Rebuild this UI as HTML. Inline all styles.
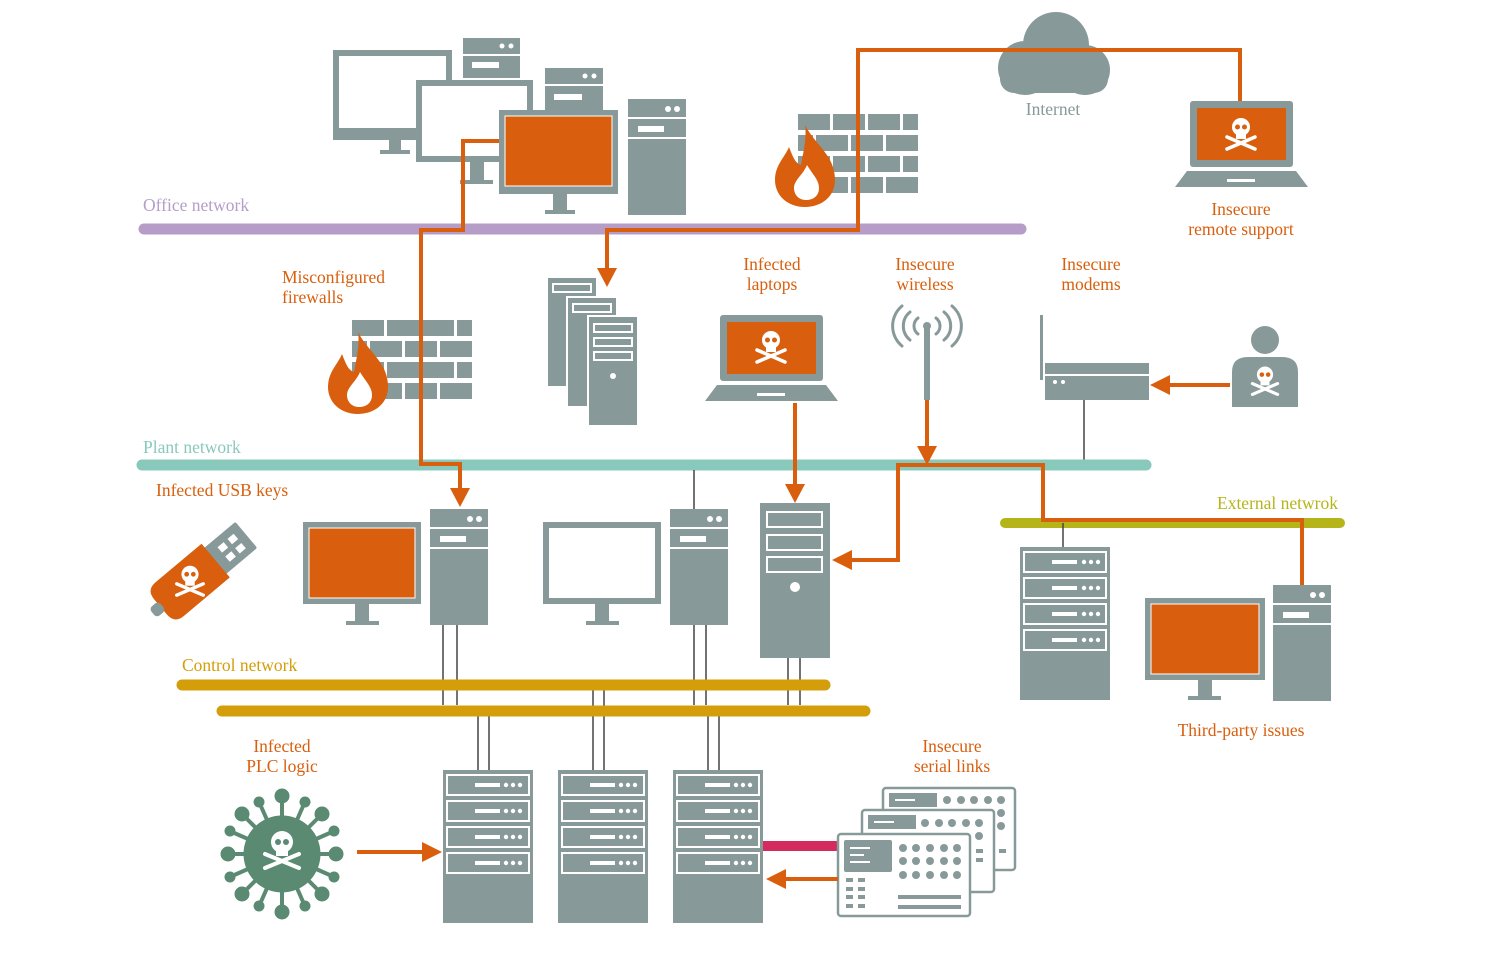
<!DOCTYPE html>
<html><head><meta charset="utf-8"><style>
html,body{margin:0;padding:0;background:#fff;}
svg{display:block;}
text{font-family:"Liberation Serif",serif;font-size:17.5px;}
.o{fill:#d95f0e;}
</style></head><body>
<svg width="1496" height="953" viewBox="0 0 1496 953" xmlns="http://www.w3.org/2000/svg">
<defs>
<g id="skull">
 <circle cx="0" cy="-6" r="9" fill="#fff"/>
 <rect x="-5" y="0" width="10" height="6" fill="#fff"/>
 <circle cx="-3.5" cy="-6" r="2.5" fill="#d95f0e"/><circle cx="3.5" cy="-6" r="2.5" fill="#d95f0e"/>
 <path d="M-14 4 L14 16 M14 4 L-14 16" stroke="#fff" stroke-width="3.5" stroke-linecap="round"/>
</g>
<g id="srv">
 <rect x="0" y="0" width="58" height="116" fill="#879a99"/>
 <rect x="0" y="18" width="58" height="2" fill="#fff"/>
 <rect x="0" y="38" width="58" height="2" fill="#fff"/>
 <circle cx="40" cy="10" r="3" fill="#fff"/><circle cx="49" cy="10" r="3" fill="#fff"/>
 <rect x="10" y="27" width="26" height="6" fill="#fff"/>
</g>
<g id="plc">
 <rect x="0" y="0" width="90" height="153" fill="#879a99"/>
 <g fill="none" stroke="#fff" stroke-width="2">
  <rect x="4" y="5" width="82" height="20"/><rect x="4" y="31" width="82" height="20"/><rect x="4" y="57" width="82" height="20"/><rect x="4" y="83" width="82" height="20"/>
 </g>
 <g fill="#fff">
  <rect x="32" y="13" width="25" height="4"/><circle cx="63" cy="15" r="2.2"/><circle cx="70" cy="15" r="2.2"/><circle cx="77" cy="15" r="2.2"/>
  <rect x="32" y="39" width="25" height="4"/><circle cx="63" cy="41" r="2.2"/><circle cx="70" cy="41" r="2.2"/><circle cx="77" cy="41" r="2.2"/>
  <rect x="32" y="65" width="25" height="4"/><circle cx="63" cy="67" r="2.2"/><circle cx="70" cy="67" r="2.2"/><circle cx="77" cy="67" r="2.2"/>
  <rect x="32" y="91" width="25" height="4"/><circle cx="63" cy="93" r="2.2"/><circle cx="70" cy="93" r="2.2"/><circle cx="77" cy="93" r="2.2"/>
 </g>
</g>
<g id="bricks" fill="#879a99">
 <rect x="0" y="0" width="32" height="16"/><rect x="35" y="0" width="32" height="16"/><rect x="70" y="0" width="32" height="16"/><rect x="105" y="0" width="15" height="16"/>
 <rect x="0" y="21" width="15" height="16"/><rect x="18" y="21" width="32" height="16"/><rect x="53" y="21" width="32" height="16"/><rect x="88" y="21" width="32" height="16"/>
 <rect x="0" y="42" width="32" height="16"/><rect x="35" y="42" width="32" height="16"/><rect x="70" y="42" width="32" height="16"/><rect x="105" y="42" width="15" height="16"/>
 <rect x="18" y="63" width="32" height="16"/><rect x="53" y="63" width="32" height="16"/><rect x="88" y="63" width="32" height="16"/>
</g>
<g id="fire">
 <path d="M30 0 C40 20 60 30 60 55 C60 72 46 82 30 82 C12 82 0 70 0 55 C0 40 10 32 14 22 C18 32 20 38 26 40 C28 28 32 14 30 0Z" fill="#d95f0e"/>
 <path d="M32 40 C38 50 44 55 44 63 C44 71 38 75 31 75 C24 75 19 70 19 63 C19 55 28 50 32 40Z" fill="#fff"/>
</g>
<g id="laptop">
 <rect x="15" y="0" width="103" height="66" rx="3" fill="#879a99"/>
 <rect x="22" y="7" width="89" height="52" fill="#d95f0e"/>
 <path d="M12 70 L121 70 L133 86 L0 86Z" fill="#879a99"/>
 <rect x="52" y="78" width="28" height="3" fill="#fff"/>
</g>
</defs>

<rect x="333" y="50" width="119" height="90" fill="#879a99"/><rect x="339" y="56" width="107" height="72" fill="#fff"/>
<rect x="389" y="140" width="12" height="12" fill="#879a99"/><rect x="380" y="150" width="30" height="4" fill="#879a99"/>
<g transform="translate(463,38)"><rect width="57" height="40" fill="#879a99"/><rect y="16" width="57" height="2" fill="#fff"/><circle cx="39" cy="8" r="2.5" fill="#fff"/><circle cx="48" cy="8" r="2.5" fill="#fff"/><rect x="9" y="24" width="27" height="6" fill="#fff"/></g>
<rect x="416" y="80" width="117" height="82" fill="#879a99"/><rect x="422" y="86" width="105" height="70" fill="#fff"/>
<rect x="470" y="162" width="14" height="20" fill="#879a99"/><rect x="460" y="180" width="33" height="4" fill="#879a99"/>
<g transform="translate(545,68)"><rect width="58" height="42" fill="#879a99"/><rect y="16" width="58" height="2" fill="#fff"/><circle cx="40" cy="8" r="2.5" fill="#fff"/><circle cx="49" cy="8" r="2.5" fill="#fff"/><rect x="9" y="26" width="28" height="6" fill="#fff"/></g>
<rect x="499" y="110" width="119" height="84" fill="#879a99"/><rect x="505" y="116" width="107" height="70" fill="#d95f0e" stroke="#fff" stroke-width="1"/>
<rect x="553" y="194" width="14" height="16" fill="#879a99"/><rect x="545" y="210" width="30" height="4" fill="#879a99"/>
<use href="#srv" x="628" y="99"/>
<rect x="628" y="160" width="57" height="54" fill="#879a99"/>

<use href="#bricks" x="798" y="114"/>
<use href="#fire" x="775" y="125"/>

<g fill="#879a99"><circle cx="1056" cy="45" r="33"/><circle cx="1025" cy="68" r="27"/><circle cx="1085" cy="70" r="25"/><rect x="1000" y="65" width="108" height="28" rx="14"/></g>
<text x="1053" y="115" fill="#879a99" text-anchor="middle">Internet</text>

<use href="#laptop" x="1175" y="101"/>
<use href="#skull" transform="translate(1241,133)"/>
<text x="1241" y="215" class="o" text-anchor="middle">Insecure</text>
<text x="1241" y="235" class="o" text-anchor="middle">remote support</text>

<text x="143" y="211" fill="#b59dc8">Office network</text>
<line x1="144" y1="229" x2="1021" y2="229" stroke="#b59dc8" stroke-width="11" stroke-linecap="round"/>

<text x="282" y="283" class="o">Misconfigured</text>
<text x="282" y="303" class="o">firewalls</text>
<use href="#bricks" x="352" y="320"/>
<use href="#fire" x="328" y="332"/>

<g fill="#879a99" stroke="#fff" stroke-width="2">
 <rect x="547" y="277" width="50" height="110"/>
 <rect x="567" y="297" width="50" height="110"/>
 <rect x="588" y="316" width="50" height="110"/>
</g>
<g fill="none" stroke="#fff" stroke-width="2">
 <rect x="553" y="284" width="38" height="8"/><rect x="573" y="304" width="38" height="8"/><rect x="594" y="324" width="38" height="8"/>
 <rect x="594" y="338" width="38" height="8"/><rect x="594" y="352" width="38" height="8"/>
</g>
<circle cx="613" cy="376" r="3" fill="#fff"/>

<text x="772" y="270" class="o" text-anchor="middle">Infected</text>
<text x="772" y="290" class="o" text-anchor="middle">laptops</text>
<use href="#laptop" x="705" y="315"/>
<use href="#skull" transform="translate(771,346)"/>

<text x="925" y="270" class="o" text-anchor="middle">Insecure</text>
<text x="925" y="290" class="o" text-anchor="middle">wireless</text>
<g fill="none" stroke="#879a99" stroke-width="3" stroke-linecap="round">
 <path d="M918 318 a10 10 0 0 0 0 16 M936 318 a10 10 0 0 1 0 16"/>
 <path d="M910 312 a18 18 0 0 0 0 28 M944 312 a18 18 0 0 1 0 28"/>
 <path d="M902 306 a26 26 0 0 0 0 40 M952 306 a26 26 0 0 1 0 40"/>
</g>
<circle cx="927" cy="326" r="4" fill="#879a99"/>
<rect x="924" y="326" width="6" height="74" fill="#879a99"/>

<text x="1091" y="270" class="o" text-anchor="middle">Insecure</text>
<text x="1091" y="290" class="o" text-anchor="middle">modems</text>
<rect x="1040" y="315" width="3" height="65" fill="#879a99"/>
<rect x="1045" y="363" width="104" height="37" fill="#879a99"/>
<rect x="1045" y="374" width="104" height="2" fill="#fff"/>
<circle cx="1055" cy="382" r="2" fill="#fff"/><circle cx="1063" cy="382" r="2" fill="#fff"/>
<line x1="1084" y1="400" x2="1084" y2="462" stroke="#444" stroke-width="1.5"/>

<circle cx="1265" cy="340" r="14" fill="#879a99"/>
<path d="M1232 407 L1232 372 Q1232 357 1248 357 L1282 357 Q1298 357 1298 372 L1298 407Z" fill="#879a99"/>
<use href="#skull" transform="translate(1265,380) scale(0.9)"/>

<text x="143" y="453" fill="#89c9bb">Plant network</text>
<line x1="142" y1="465" x2="1146" y2="465" stroke="#89c9bb" stroke-width="11" stroke-linecap="round"/>

<text x="156" y="496" class="o">Infected USB keys</text>
<g transform="translate(208,567) rotate(-40)">
 <rect x="8" y="-17" width="42" height="34" rx="2" fill="#879a99"/>
 <rect x="20" y="-9" width="8" height="7" fill="#fff"/><rect x="20" y="3" width="8" height="7" fill="#fff"/>
 <rect x="33" y="-9" width="8" height="7" fill="#fff"/><rect x="33" y="3" width="8" height="7" fill="#fff"/>
 <path d="M-50 -22 L10 -22 L10 22 L-50 22 Q-62 22 -62 10 L-62 -10 Q-62 -22 -50 -22Z" fill="#d95f0e"/>
 <rect x="-72" y="-6" width="12" height="12" rx="4" fill="#879a99"/>
</g>
<use href="#skull" transform="translate(190,580) scale(0.95)"/>

<rect x="303" y="522" width="118" height="82" fill="#879a99"/><rect x="309" y="528" width="106" height="70" fill="#d95f0e" stroke="#fff"/>
<rect x="355" y="604" width="14" height="18" fill="#879a99"/><rect x="346" y="621" width="33" height="4" fill="#879a99"/>
<use href="#srv" x="430" y="509"/>

<rect x="543" y="522" width="118" height="82" fill="#879a99"/><rect x="549" y="528" width="106" height="70" fill="#fff"/>
<rect x="595" y="604" width="14" height="18" fill="#879a99"/><rect x="586" y="621" width="33" height="4" fill="#879a99"/>
<use href="#srv" x="670" y="509"/>
<line x1="694" y1="470" x2="694" y2="509" stroke="#444" stroke-width="1.5"/>

<rect x="760" y="503" width="70" height="155" fill="#879a99"/>
<g fill="none" stroke="#fff" stroke-width="2"><rect x="767" y="512" width="55" height="15"/><rect x="767" y="535" width="55" height="15"/><rect x="767" y="557" width="55" height="15"/></g>
<circle cx="795" cy="587" r="5" fill="#fff"/>

<text x="1338" y="509" fill="#b5b51a" text-anchor="end">External netwrok</text>
<line x1="1005" y1="523" x2="1340" y2="523" stroke="#b5b51a" stroke-width="10" stroke-linecap="round"/>
<line x1="1063" y1="523" x2="1063" y2="547" stroke="#444" stroke-width="1.5"/>
<g transform="translate(1020,547)">
 <rect width="90" height="153" fill="#879a99"/>
 <g fill="none" stroke="#fff" stroke-width="2"><rect x="4" y="5" width="82" height="20"/><rect x="4" y="31" width="82" height="20"/><rect x="4" y="57" width="82" height="20"/><rect x="4" y="83" width="82" height="20"/></g>
 <g fill="#fff"><rect x="32" y="13" width="25" height="4"/><rect x="32" y="39" width="25" height="4"/><rect x="32" y="65" width="25" height="4"/><rect x="32" y="91" width="25" height="4"/>
 <circle cx="64" cy="15" r="2.2"/><circle cx="71" cy="15" r="2.2"/><circle cx="78" cy="15" r="2.2"/><circle cx="64" cy="41" r="2.2"/><circle cx="71" cy="41" r="2.2"/><circle cx="78" cy="41" r="2.2"/><circle cx="64" cy="67" r="2.2"/><circle cx="71" cy="67" r="2.2"/><circle cx="78" cy="67" r="2.2"/><circle cx="64" cy="93" r="2.2"/><circle cx="71" cy="93" r="2.2"/><circle cx="78" cy="93" r="2.2"/></g>
</g>
<rect x="1145" y="598" width="120" height="82" fill="#879a99"/><rect x="1151" y="604" width="108" height="70" fill="#d95f0e" stroke="#fff"/>
<rect x="1198" y="680" width="14" height="16" fill="#879a99"/><rect x="1188" y="696" width="33" height="4" fill="#879a99"/>
<use href="#srv" x="1273" y="585"/>
<text x="1241" y="736" class="o" text-anchor="middle">Third-party issues</text>

<g stroke="#444" stroke-width="1.5">
 <line x1="443" y1="625" x2="443" y2="705"/><line x1="457" y1="625" x2="457" y2="705"/>
 <line x1="694" y1="625" x2="694" y2="705"/><line x1="706" y1="625" x2="706" y2="705"/>
 <line x1="788" y1="658" x2="788" y2="705"/><line x1="800" y1="658" x2="800" y2="705"/>
 <line x1="478" y1="715" x2="478" y2="770"/><line x1="489" y1="715" x2="489" y2="770"/>
 <line x1="593" y1="690" x2="593" y2="770"/><line x1="604" y1="690" x2="604" y2="770"/>
 <line x1="708" y1="715" x2="708" y2="770"/><line x1="719" y1="715" x2="719" y2="770"/>
</g>
<text x="182" y="671" fill="#d39e0a">Control network</text>
<line x1="182" y1="685" x2="825" y2="685" stroke="#d39e0a" stroke-width="11" stroke-linecap="round"/>
<line x1="222" y1="711" x2="865" y2="711" stroke="#d39e0a" stroke-width="11" stroke-linecap="round"/>

<text x="282" y="752" class="o" text-anchor="middle">Infected</text>
<text x="282" y="772" class="o" text-anchor="middle">PLC logic</text>
<g transform="translate(282,854)" fill="#5a8a72" stroke="#5a8a72">
 <g stroke-width="4">
  <line x1="0" y1="0" x2="0" y2="-56"/><line x1="0" y1="0" x2="0" y2="56"/><line x1="0" y1="0" x2="-52" y2="0"/><line x1="0" y1="0" x2="52" y2="0"/>
  <line x1="0" y1="0" x2="-38" y2="-38"/><line x1="0" y1="0" x2="38" y2="-38"/><line x1="0" y1="0" x2="-38" y2="38"/><line x1="0" y1="0" x2="38" y2="38"/>
  <line x1="0" y1="0" x2="-22" y2="-50"/><line x1="0" y1="0" x2="22" y2="-50"/><line x1="0" y1="0" x2="-22" y2="50"/><line x1="0" y1="0" x2="22" y2="50"/>
  <line x1="0" y1="0" x2="-50" y2="-22"/><line x1="0" y1="0" x2="50" y2="-22"/><line x1="0" y1="0" x2="-50" y2="22"/><line x1="0" y1="0" x2="50" y2="22"/>
 </g>
 <circle r="38"/>
 <circle cy="-58" r="7"/><circle cy="58" r="7"/><circle cx="-54" r="7"/><circle cx="54" r="7"/>
 <circle cx="-40" cy="-40" r="7"/><circle cx="40" cy="-40" r="7"/><circle cx="-40" cy="40" r="7"/><circle cx="40" cy="40" r="7"/>
 <circle cx="-23" cy="-52" r="5"/><circle cx="23" cy="-52" r="5"/><circle cx="-23" cy="52" r="5"/><circle cx="23" cy="52" r="5"/>
 <circle cx="-52" cy="-23" r="5"/><circle cx="52" cy="-23" r="5"/><circle cx="-52" cy="23" r="5"/><circle cx="52" cy="23" r="5"/>
</g>
<g transform="translate(282,848)">
 <circle cx="0" cy="-6" r="11" fill="#fff"/><rect x="-6" y="0" width="12" height="8" fill="#fff"/>
 <circle cx="-4" cy="-6" r="3" fill="#5a8a72"/><circle cx="4" cy="-6" r="3" fill="#5a8a72"/>
 <path d="M-17 6 L17 20 M17 6 L-17 20" stroke="#fff" stroke-width="4" stroke-linecap="round"/>
</g>
<use href="#plc" x="443" y="770"/>
<use href="#plc" x="558" y="770"/>
<use href="#plc" x="673" y="770"/>

<text x="952" y="752" class="o" text-anchor="middle">Insecure</text>
<text x="952" y="772" class="o" text-anchor="middle">serial links</text>
<line x1="763" y1="846" x2="840" y2="846" stroke="#d42a5e" stroke-width="10"/>
<g stroke="#879a99" stroke-width="2.5" fill="#fff">
 <rect x="883" y="788" width="132" height="82" rx="3"/>
 <rect x="862" y="810" width="132" height="82" rx="3"/>
 <rect x="838" y="834" width="132" height="82" rx="3"/>
</g>
<g fill="#879a99">
 <rect x="889" y="793" width="48" height="14"/><rect x="868" y="815" width="48" height="14"/><rect x="844" y="840" width="48" height="32" rx="2"/>
 <circle cx="947" cy="800" r="4"/><circle cx="961" cy="800" r="4"/><circle cx="974" cy="800" r="4"/><circle cx="988" cy="800" r="4"/><circle cx="1001" cy="800" r="4"/>
 <circle cx="925" cy="823" r="4"/><circle cx="939" cy="823" r="4"/><circle cx="952" cy="823" r="4"/><circle cx="966" cy="823" r="4"/><circle cx="979" cy="823" r="4"/>
 <circle cx="1001" cy="813" r="4"/><circle cx="1001" cy="826" r="4"/><circle cx="979" cy="836" r="4"/>
 <g id="dots"><circle cx="903" cy="848" r="4"/><circle cx="916" cy="848" r="4"/><circle cx="930" cy="848" r="4"/><circle cx="944" cy="848" r="4"/><circle cx="957" cy="848" r="4"/></g>
 <use href="#dots" y="13"/><use href="#dots" y="27"/>
 <rect x="846" y="878" width="7" height="4"/><rect x="858" y="878" width="7" height="4"/>
 <rect x="846" y="887" width="7" height="4"/><rect x="858" y="887" width="7" height="4"/>
 <rect x="846" y="895" width="7" height="4"/><rect x="858" y="895" width="7" height="4"/>
 <rect x="846" y="904" width="7" height="4"/><rect x="858" y="904" width="7" height="4"/>
 <rect x="898" y="895" width="63" height="4"/><rect x="898" y="905" width="63" height="4"/>
 <rect x="976" y="849" width="7" height="4"/><rect x="976" y="858" width="7" height="4"/><rect x="999" y="849" width="7" height="4"/>
</g>
<g stroke="#fff" stroke-width="2"><line x1="850" y1="848" x2="870" y2="848"/><line x1="850" y1="855" x2="864" y2="855"/><line x1="850" y1="862" x2="870" y2="862"/><line x1="895" y1="800" x2="915" y2="800"/><line x1="874" y1="822" x2="894" y2="822"/></g>

<g fill="none" stroke="#d95f0e" stroke-width="4">
 <path d="M499 141 L463 141 L463 230 L421 230 L421 464 L460 464 L460 494"/>
 <path d="M1240 101 L1240 50 L858 50 L858 230 L607 230 L607 274"/>
 <path d="M795 403 L795 490"/>
 <path d="M927 400 L927 452"/>
 <path d="M927 465 L898 465 L898 560 L846 560"/>
 <path d="M927 465 L1043 465 L1043 520 L1302 520 L1302 585"/>
 <path d="M1230 385 L1165 385"/>
 <path d="M357 852 L428 852"/>
 <path d="M838 879 L780 879"/>
</g>
<g fill="#d95f0e">
 <path d="M450 488 L470 488 L460 507Z"/>
 <path d="M597 268 L617 268 L607 287Z"/>
 <path d="M785 484 L805 484 L795 503Z"/>
 <path d="M917 446 L937 446 L927 465Z"/>
 <path d="M852 550 L852 570 L832 560Z"/>
 <path d="M1170 375 L1170 395 L1150 385Z"/>
 <path d="M422 842 L422 862 L442 852Z"/>
 <path d="M786 869 L786 889 L766 879Z"/>
</g>
</svg>
</body></html>
